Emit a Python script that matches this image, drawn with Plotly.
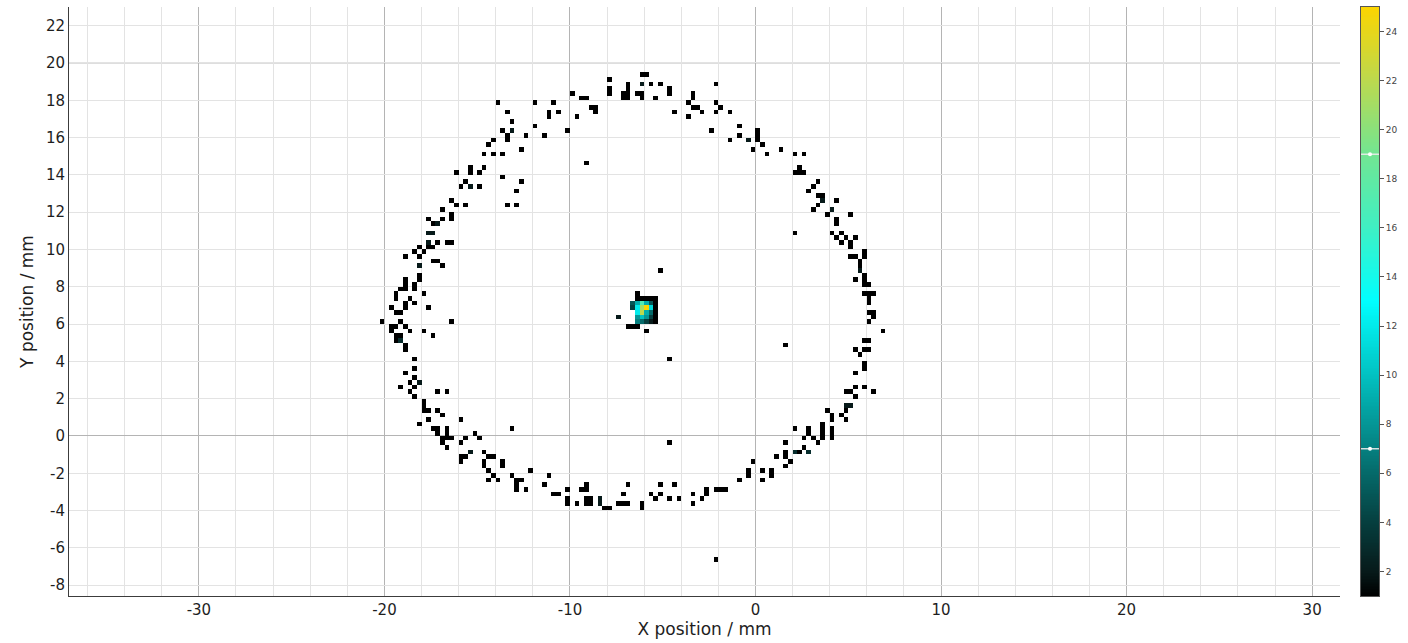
import numpy as np
import plotly.graph_objects as go

BIN = 0.25  # detector pixel pitch in mm

# ---- single-hit bins (bin centres, mm) ----
upper_left_x = [-7.875, -7.875, -7.875, -6.875, -6.875, -6.875, -6.875, -7.125, -7.125,
                -9.875, -9.375, -9.125, -8.875, -8.625, -8.625,
                -13.875, -11.875, -10.875, -13.375, -11.125, -11.125, -10.625, -9.625,
                -13.125, -13.625, -13.375, -13.375,
                -11.875, -12.375, -11.375, -10.125,
                -14.125, -14.375, -12.625, -14.625, -14.125, -13.625, -9.125,
                -16.125, -15.375, -15.375, -14.875, -14.625,
                -13.625, -15.625, -15.875, -14.875, -12.625, -12.875,
                -16.375, -16.125, -15.625, -13.375, -12.875,
                -16.875, -16.375, -16.375, -17.625, -16.875, -17.375,
                -17.125, -16.625, -16.375,
                -18.125, -17.625, -17.375, -18.375, -17.875, -18.875, -18.125,
                -17.375, -17.125, -16.875, -18.125, -18.125,
                -18.875, -18.875, -18.875, -18.375, -18.375,
                -19.125, -19.375, -17.875, -19.375, -18.625, -18.875, -18.375,
                -19.625, -18.875, -17.625, -19.375, -19.125]
upper_left_y = [19.125, 18.625, 18.375, 18.875, 18.625, 18.375, 18.125, 18.375, 18.125,
                18.375, 18.125, 18.125, 17.625, 17.625, 17.375,
                17.875, 17.875, 17.875, 17.375, 17.375, 17.125, 17.375, 17.125,
                16.875, 16.375, 16.125, 15.875,
                16.625, 16.125, 16.125, 16.375,
                15.875, 15.625, 15.375, 15.125, 15.125, 15.125, 14.625,
                14.125, 14.375, 14.125, 14.125, 14.375,
                13.875, 13.625, 13.375, 13.375, 13.625, 13.125,
                12.625, 12.375, 12.375, 12.375, 12.375,
                12.125, 11.875, 11.625, 11.625, 11.625, 11.375,
                10.375, 10.375, 10.375,
                10.125, 10.125, 10.125, 9.875, 9.875, 9.625, 9.625,
                9.375, 9.375, 9.125, 8.625, 8.375,
                8.375, 8.125, 7.875, 8.125, 7.875,
                7.875, 7.625, 7.625, 7.375, 7.375, 7.125, 7.125,
                6.875, 6.875, 6.875, 6.625, 6.625]

upper_right_x = [-6.125, -5.875, -5.625, -5.125, -6.375, -6.125, -6.125, -5.375,
                 -4.625, -4.625, -3.375, -3.375, -3.625, -3.375, -3.125, -2.875,
                 -4.375, -3.625, -2.125, -2.125, -1.875, -2.125, -1.375, -2.375,
                 -0.875, -0.875, -1.375, 0.125, 0.125, 0.125,
                 0.375, -0.125, 0.625, 1.375, 2.125, 2.625,
                 2.375, 2.125, 2.375, 2.625, 3.375, 3.125, 2.875,
                 3.375, 3.625, 3.375, 4.375, 3.125, 3.875, 4.375, 4.375, 5.125,
                 2.125, 4.125, 4.625, 4.375, 4.875, 5.375, 4.625, 5.125, 5.125,
                 5.875, 5.875, 5.125, 5.375, 5.625, 5.625, 5.875, 5.375, 5.875,
                 5.875, 6.125, 5.875, 6.125, 6.375, 6.125, 6.125, 6.125, 6.375,
                 -5.125]
upper_right_y = [19.375, 19.375, 18.875, 18.875, 18.375, 18.375, 18.125, 18.125,
                 18.625, 18.375, 18.375, 18.125, 17.875, 17.625, 17.625, 17.375,
                 17.375, 17.125, 18.875, 17.875, 17.625, 17.375, 17.375, 16.375,
                 16.625, 16.125, 15.875, 16.375, 16.125, 15.875,
                 15.625, 15.375, 15.125, 15.375, 15.125, 15.125,
                 14.375, 14.125, 14.125, 14.125, 13.625, 13.375, 13.125,
                 12.875, 12.875, 12.375, 12.625, 12.125, 11.875, 11.625, 11.375, 11.875,
                 10.875, 10.875, 10.875, 10.625, 10.625, 10.625, 10.375, 10.375, 10.125,
                 9.875, 9.625, 9.625, 9.625, 9.375, 9.125, 8.625, 8.375, 8.375,
                 8.125, 8.125, 7.625, 7.625, 7.625, 7.375, 7.125, 6.625, 6.625,
                 8.875]

lower_left_x = [-20.125, -19.125, -16.375, -7.375,
                -19.625, -19.375, -18.875, -19.625, -18.625,
                -19.375, -19.125, -19.375, -18.875, -18.875, -17.875, -17.375,
                -18.375, -18.375, -18.875, -18.375, -18.625, -19.125, -18.375, -18.625, -18.375,
                -17.125, -16.625, -17.875, -17.875, -17.875, -17.625, -17.125, -16.875,
                -18.125, -17.625, -15.875,
                -17.375, -17.125, -17.125, -16.625, -16.625, -16.875, -16.625, -16.375,
                -16.875, -16.625, -15.875, -15.625, -15.125, -14.875, -13.125,
                -15.875, -15.625, -15.875,
                -14.625, -14.375, -14.125, -14.625, -14.625, -14.375, -14.125, -14.375,
                -13.875, -13.625, -13.625, -12.125,
                -13.125, -12.875, -12.625, -12.875, -12.875, -12.375,
                -11.125, -11.375, -10.875, -10.625,
                -10.125, -10.125, -10.125, -9.625, -9.375, -9.125, -9.125,
                -9.125, -8.875, -9.125, -8.875, -8.125, -7.875,
                -7.375, -7.125, -6.875, -7.125, -6.875]
lower_left_y = [6.125, 6.125, 6.125, 6.375,
                5.875, 5.875, 5.875, 5.625, 5.625,
                5.375, 5.375, 5.125, 4.875, 4.625, 5.625, 5.375,
                4.125, 3.625, 3.375, 3.125, 2.875, 2.625, 2.625, 2.375, 2.125,
                2.375, 2.375, 1.875, 1.625, 1.375, 1.375, 1.375, 1.125,
                0.625, 0.875, 0.875,
                0.375, 0.375, 0.125, 0.375, 0.125, -0.125, -0.125, -0.125,
                -0.375, -0.625, -0.375, -0.125, 0.125, -0.125, 0.375,
                -1.125, -1.125, -1.375,
                -0.875, -1.125, -1.125, -1.375, -1.625, -1.875, -2.125, -2.375,
                -2.375, -1.375, -1.625, -1.875,
                -2.125, -2.375, -2.375, -2.625, -2.875, -2.875,
                -2.125, -2.625, -3.125, -3.125,
                -2.875, -3.375, -3.625, -3.625, -2.875, -2.875, -2.625,
                -3.375, -3.375, -3.625, -3.625, -3.875, -3.875,
                -3.625, -3.625, -3.625, -3.125, -2.625]

lower_right_x = [-4.625, 1.625, -4.625, 6.125, 6.375, 6.875,
                 5.875, 6.125, 5.375, 5.875, 6.125, 5.625, 5.875, 5.875, 5.375, 5.875,
                 4.875, 5.125, 5.375, 5.375, 6.375,
                 4.875, 4.625, 4.875, 3.875, 4.125, 4.125,
                 3.625, 3.625, 3.625, 3.625, 4.125, 4.125, 4.125,
                 2.875, 2.875, 2.625, 3.125, 3.375, 2.125,
                 1.625, 2.625, 2.375, 1.625, 1.625, 1.125, 1.875, 1.625,
                 -0.125, -0.375, -0.375, 0.375, 0.375, 0.875, 0.875, -0.875,
                 -2.125, -1.875, -1.625, -2.625, -2.625, -2.875, -3.375, -3.375,
                 -4.375, -4.125, -4.625, -5.125, -5.625, -5.375, -5.125,
                 -6.125, -6.125, -2.125]
lower_right_y = [4.125, 4.875, -0.375, 6.125, 6.375, 5.625,
                 5.125, 5.125, 4.625, 4.625, 4.625, 4.375, 3.875, 3.625, 3.375, 2.625,
                 2.375, 2.375, 2.625, 2.125, 2.375,
                 1.375, 1.125, 0.875, 1.375, 1.125, 0.875,
                 0.625, 0.375, 0.125, -0.125, 0.375, 0.125, -0.125,
                 0.375, 0.125, -0.125, -0.125, -0.375, 0.375,
                 -0.375, -0.625, -0.875, -0.875, -1.125, -1.125, -1.375, -1.625,
                 -1.375, -1.875, -2.125, -1.875, -2.375, -1.875, -2.125, -2.375,
                 -2.875, -2.875, -2.875, -2.875, -3.125, -3.375, -3.125, -3.625,
                 -2.625, -3.375, -3.375, -2.625, -3.125, -3.375, -3.125,
                 -3.625, -3.875, -6.625]

# ---- ring bins with more than one hit ----
multi_x = [-13.125, -15.375, -17.125, -17.625, -17.375, -17.625, -18.125,
           -6.125, -0.375, 3.625, 4.125, 5.625,
           -19.125, -18.125, -15.375, -8.375, -8.375,
           4.875, 5.125, 2.125, 2.875]
multi_y = [16.375, 13.375, 11.375, 10.875, 10.875, 10.375, 9.125,
           18.875, 15.875, 12.625, 12.125, 8.875,
           5.125, 2.875, -0.875, -3.375, -3.625,
           1.625, 1.625, -0.875, -0.875]
multi_n = [2, 2, 2, 2, 2, 2, 2,
           2, 2, 2, 2, 2,
           3, 2, 2, 2, 2,
           2, 2, 3, 3]

# ---- beam core ----
core_x = [-6.375, -6.375, -6.125, -5.875, -5.625, -5.375,
          -6.625, -6.375, -6.125, -5.875, -5.625, -5.375,
          -6.625, -6.375, -6.125, -5.875, -5.625, -5.375,
          -6.375, -6.125, -5.875, -5.625, -5.375,
          -6.375, -6.125, -5.875, -5.625, -5.375,
          -6.375, -6.125, -5.875, -5.625, -5.375,
          -6.875, -6.625, -6.375, -7.375, -5.875]
core_y = [7.625, 7.375, 7.375, 7.375, 7.375, 7.375,
          7.125, 7.125, 7.125, 7.125, 7.125, 7.125,
          6.875, 6.875, 6.875, 6.875, 6.875, 6.875,
          6.625, 6.625, 6.625, 6.625, 6.625,
          6.375, 6.375, 6.375, 6.375, 6.375,
          6.125, 6.125, 6.125, 6.125, 6.125,
          5.875, 5.875, 5.875, 6.375, 5.625]
core_n = [1, 1, 1, 1, 1, 1,
          5, 9, 17, 9, 5, 1,
          4, 12, 21, 25, 11, 1,
          12, 22, 9, 6, 1,
          8, 10, 8, 4, 1,
          7, 6, 4, 2, 1,
          1, 1, 1, 1, 1]

# axis tick values
x_ticks = [-30, -20, -10, 0, 10, 20, 30]
y_ticks = list(range(-8, 23, 2))
cb_ticks = list(range(2, 25, 2))

# ---- accumulate into a 2D histogram ----
xs = np.array(upper_left_x + upper_right_x + lower_left_x + lower_right_x + multi_x + core_x)
ys = np.array(upper_left_y + upper_right_y + lower_left_y + lower_right_y + multi_y + core_y)
ns = np.array([1] * (len(upper_left_x) + len(upper_right_x) + len(lower_left_x) + len(lower_right_x))
              + multi_n + core_n, dtype=float)

x_lo, x_hi = -21.0, 8.0
y_lo, y_hi = -7.5, 20.5
nx = int(round((x_hi - x_lo) / BIN))
ny = int(round((y_hi - y_lo) / BIN))
counts, _, _ = np.histogram2d(ys, xs, bins=[ny, nx], range=[[y_lo, y_hi], [x_lo, x_hi]], weights=ns)
z = np.where(counts > 0, counts, np.nan)
x_centres = x_lo + BIN * (np.arange(nx) + 0.5)
y_centres = y_lo + BIN * (np.arange(ny) + 0.5)

Z_MIN, Z_MAX = 1, 25
lut = [
    [0.0, "#000000"],
    [1 / 24, "#071a1a"],
    [3 / 24, "#063f3f"],
    [5 / 24, "#056a6a"],
    [7 / 24, "#049696"],
    [9 / 24, "#02c2c2"],
    [12 / 24, "#00ffff"],
    [15 / 24, "#3ff0c4"],
    [18 / 24, "#72e592"],
    [21 / 24, "#bcd94e"],
    [1.0, "#fcd500"],
]

FONT = "DejaVu Sans"
W, H = 1408, 643
ML, MR, MT, MB = 69, 28, 7, 47
plot_w = W - ML - MR
main_right = (1340 - ML) / plot_w
cb_left = (1361 - ML) / plot_w
cb_right = (1379 - ML) / plot_w

fig = go.Figure()
fig.add_trace(go.Heatmap(
    x=x_centres, y=y_centres, z=z,
    colorscale=lut, zmin=Z_MIN, zmax=Z_MAX,
    showscale=False, hoverongaps=False,
    xaxis="x", yaxis="y",
))

# colour bar drawn as its own gradient strip
grad = np.linspace(Z_MIN, Z_MAX, 400)
fig.add_trace(go.Heatmap(
    x=[0], y=grad, z=grad.reshape(-1, 1),
    colorscale=lut, zmin=Z_MIN, zmax=Z_MAX,
    showscale=False, hoverinfo="skip",
    xaxis="x2", yaxis="y2",
))

light = "#e3e3e3"
dark = "#b4b4b4"
axis_col = "#3c3c3c"
txt = "#1e1e1e"

fig.update_layout(
    width=W, height=H,
    margin=dict(l=ML, r=MR, t=MT, b=MB),
    paper_bgcolor="white", plot_bgcolor="white",
    font=dict(family=FONT, color=txt),
    showlegend=False,
    xaxis=dict(
        domain=[0, main_right], range=[-37, 31.5],
        tickmode="array", tickvals=x_ticks, ticktext=[str(v) for v in x_ticks],
        showgrid=True, gridcolor=dark, gridwidth=1,
        minor=dict(dtick=2, tick0=0, showgrid=True, gridcolor=light, gridwidth=1),
        zeroline=False, showline=True, linecolor=axis_col, linewidth=1,
        ticks="", tickfont=dict(size=15, color=txt, family=FONT),
        title=dict(text="X position / mm", font=dict(size=17, color=txt, family=FONT), standoff=3),
    ),
    yaxis=dict(
        domain=[0, 1], range=[-8.58, 23.0],
        tickmode="array", tickvals=y_ticks, ticktext=[str(v) for v in y_ticks],
        showgrid=True, gridcolor=light, gridwidth=1,
        zeroline=True, zerolinecolor=dark, zerolinewidth=1,
        showline=True, linecolor=axis_col, linewidth=1,
        ticks="", tickfont=dict(size=15, color=txt, family=FONT),
        title=dict(text="Y position / mm", font=dict(size=17, color=txt, family=FONT), standoff=7),
    ),
    xaxis2=dict(
        domain=[cb_left, cb_right], anchor="y2", range=[-0.5, 0.5],
        showgrid=False, zeroline=False, showticklabels=False, ticks="",
        showline=True, linecolor="#555555", linewidth=1, mirror=True,
    ),
    yaxis2=dict(
        domain=[0, 1], anchor="x2", side="right", range=[Z_MIN, Z_MAX],
        tickmode="array", tickvals=cb_ticks, ticktext=[str(v) for v in cb_ticks],
        showgrid=False, zeroline=False,
        showline=True, linecolor="#555555", linewidth=1, mirror=True,
        ticks="outside", ticklen=4, tickcolor="#555555",
        tickfont=dict(size=9, color="#444444", family=FONT),
    ),
)

# darker major line at y = 20
fig.add_shape(type="line", xref="x", yref="y", x0=-37, x1=31.5, y0=20, y1=20,
              line=dict(color=dark, width=1), layer="below")

# level markers on the colour bar
for level in (19, 7):
    fig.add_shape(type="line", xref="x2", yref="y2", x0=-0.5, x1=0.5, y0=level, y1=level,
                  line=dict(color="rgba(235,235,235,0.9)", width=1.5), layer="above")
    fig.add_shape(type="circle", xref="x2", yref="y2", xsizemode="pixel", ysizemode="pixel",
                  xanchor=0, yanchor=level, x0=-2, x1=2, y0=-2, y1=2,
                  fillcolor="white", line=dict(color="white", width=0), layer="above")

fig.write_html("out.html")
